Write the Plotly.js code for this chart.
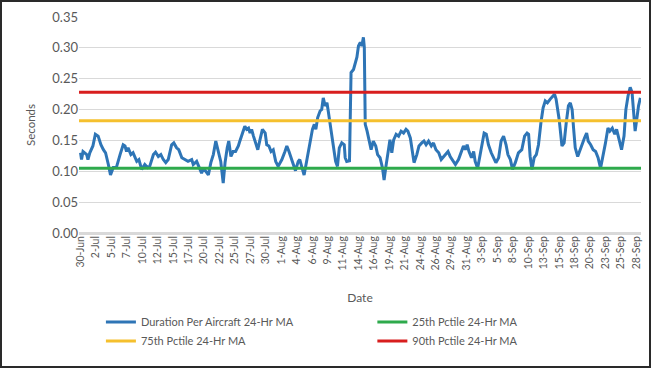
<!DOCTYPE html>
<html>
<head>
<meta charset="utf-8">
<script src="https://cdn.plot.ly/plotly-3.0.1.min.js"></script>
<style>
  html, body { margin: 0; padding: 0; background: #ffffff; }
  #wrap { position: relative; width: 655px; height: 381px; }
  #chart { position: absolute; left: 0; top: 0; width: 655px; height: 381px; }
  #frame { position: absolute; left: 0; top: 0; width: 647px; height: 364px;
           border: 2px solid #2a2a2a; pointer-events: none; }
</style>
</head>
<body>
<div id="wrap">
  <div id="chart"></div>
  <div id="frame"></div>
</div>
<script>
// Time index: days elapsed since 30-Jun 00:00 for each reading
const dayIndex = [
  0, 0.16, 0.4, 1.0, 1.2, 1.5, 2.0, 2.4, 2.85, 3.3, 3.7, 4.05, 4.5, 4.85, 5.3, 5.8,
  6.4, 6.9, 7.2, 7.45, 7.7, 8.15, 8.5, 9.1, 9.45, 9.9, 10.4, 10.85, 11.2, 11.8, 12.15,
  12.6, 13.0, 13.4, 13.8, 14.2, 14.75, 15.1, 15.55, 15.9, 16.4, 16.9, 17.4, 18.0, 18.25,
  18.8, 19.2, 19.6, 19.9, 20.25, 20.7, 21.1, 21.5, 21.9, 22.3, 22.7, 23.1, 23.4, 23.75,
  24.0, 24.35, 24.7, 25.1, 25.55, 25.8, 26.2, 26.6, 26.9, 27.2, 27.45, 27.7, 28.0, 28.35,
  28.7, 29.05, 29.45, 29.9, 30.15, 30.5, 30.85, 31.2, 31.6, 32.0, 32.6, 33.1, 33.4, 33.75,
  34.1, 34.45, 34.8, 35.25, 35.5, 35.8, 36.2, 36.6, 37.15, 37.55, 37.85, 38.1, 38.4, 38.8,
  39.05, 39.3, 39.6, 39.9, 40.1, 40.4, 40.7, 40.95, 41.3, 41.6, 41.9, 42.3, 42.7, 42.85,
  43.1, 43.55, 43.8, 44.2, 44.45, 44.75, 45.0, 45.3, 45.55, 45.8, 45.95, 46.1, 46.4, 46.7,
  47.05, 47.4, 47.8, 48.1, 48.5, 48.9, 49.15, 49.45, 49.75, 50.1, 50.4, 50.7, 51.1, 51.5,
  51.9, 52.3, 52.7, 53.0, 53.4, 53.65, 54.0, 54.45, 54.8, 55.25, 55.6, 55.95, 56.35, 56.8,
  57.15, 57.55, 58.0, 58.4, 58.8, 59.2, 59.5, 59.85, 60.2, 60.7, 61.2, 61.65, 62.0, 62.3,
  62.6, 62.9, 63.3, 63.65, 63.9, 64.3, 64.55, 65.0, 65.35, 65.7, 66.05, 66.5, 66.9, 67.25,
  67.7, 68.1, 68.5, 68.9, 69.2, 69.6, 69.95, 70.4, 70.9, 71.45, 71.9, 72.3, 72.55, 72.8,
  73.1, 73.45, 73.8, 74.15, 74.55, 74.9, 75.25, 75.6, 76.05, 76.4, 76.75, 77.0, 77.25,
  77.5, 77.95, 78.3, 78.65, 79.0, 79.3, 79.6, 79.85, 80.1, 80.5, 80.8, 81.2, 81.6, 81.95,
  82.2, 82.6, 83.0, 83.4, 83.8, 84.2, 84.6, 85.0, 85.4, 85.7, 86.1, 86.5, 86.8, 87.2,
  87.6, 88.0, 88.3, 88.65, 89.0, 89.3, 89.5, 89.8, 90.1, 90.35, 90.65
];

// Duration Per Aircraft 24-Hr MA (seconds)
const durationMA = [
  0.130, 0.119, 0.132, 0.127, 0.119, 0.130, 0.141, 0.160, 0.157, 0.143, 0.135, 0.130, 0.111, 0.094, 0.106, 0.106,
  0.127, 0.143, 0.141, 0.132, 0.138, 0.127, 0.130, 0.116, 0.119, 0.103, 0.111, 0.106, 0.108, 0.127, 0.131,
  0.124, 0.127, 0.119, 0.114, 0.119, 0.143, 0.146, 0.138, 0.135, 0.122, 0.119, 0.116, 0.119, 0.111,
  0.116, 0.105, 0.097, 0.105, 0.100, 0.094, 0.114, 0.127, 0.149, 0.132, 0.116, 0.081, 0.114, 0.138,
  0.149, 0.124, 0.132, 0.132, 0.141, 0.149, 0.160, 0.173, 0.168, 0.170, 0.162, 0.168, 0.157, 0.146,
  0.135, 0.151, 0.168, 0.162, 0.143, 0.141, 0.132, 0.135, 0.116, 0.108, 0.119, 0.132, 0.141, 0.132,
  0.122, 0.111, 0.101, 0.116, 0.119, 0.108, 0.094, 0.116, 0.146, 0.168, 0.176, 0.168, 0.187, 0.198,
  0.200, 0.219, 0.206, 0.211, 0.198, 0.176, 0.154, 0.138, 0.116, 0.108, 0.138, 0.146, 0.143, 0.122,
  0.116, 0.117, 0.260, 0.265, 0.276, 0.285, 0.303, 0.309, 0.303, 0.317, 0.301, 0.176, 0.165, 0.149,
  0.135, 0.149, 0.141, 0.127, 0.122, 0.105, 0.086, 0.108, 0.127, 0.151, 0.130, 0.151, 0.160, 0.157,
  0.165, 0.162, 0.168, 0.165, 0.154, 0.138, 0.114, 0.127, 0.141, 0.146, 0.149, 0.143, 0.149, 0.141,
  0.146, 0.135, 0.130, 0.119, 0.124, 0.130, 0.132, 0.124, 0.119, 0.111, 0.119, 0.132, 0.141, 0.135,
  0.143, 0.132, 0.122, 0.132, 0.116, 0.105, 0.119, 0.146, 0.162, 0.160, 0.143, 0.130, 0.122, 0.114,
  0.122, 0.149, 0.157, 0.143, 0.127, 0.119, 0.103, 0.114, 0.130, 0.135, 0.157, 0.162, 0.160, 0.124,
  0.103, 0.122, 0.127, 0.143, 0.179, 0.203, 0.214, 0.211, 0.217, 0.222, 0.225, 0.217, 0.200,
  0.184, 0.141, 0.146, 0.179, 0.206, 0.211, 0.200, 0.168, 0.138, 0.124, 0.132, 0.146, 0.154, 0.162,
  0.149, 0.143, 0.135, 0.132, 0.122, 0.105, 0.124, 0.146, 0.170, 0.165, 0.170, 0.160, 0.168, 0.151,
  0.135, 0.157, 0.200, 0.222, 0.236, 0.228, 0.206, 0.165, 0.187, 0.206, 0.219
];

// Percentile reference levels (seconds)
const pctile25 = 0.105;
const pctile75 = 0.182;
const pctile90 = 0.228;

// Category tick labels (every 2.5 days)
const tickLabels = [
  "30-Jun", "2-Jul", "5-Jul", "7-Jul", "10-Jul", "12-Jul", "15-Jul", "17-Jul", "20-Jul",
  "22-Jul", "25-Jul", "27-Jul", "30-Jul", "1-Aug", "4-Aug", "6-Aug", "9-Aug", "11-Aug",
  "14-Aug", "16-Aug", "19-Aug", "21-Aug", "24-Aug", "26-Aug", "29-Aug", "31-Aug", "3-Sep",
  "5-Sep", "8-Sep", "10-Sep", "13-Sep", "15-Sep", "18-Sep", "20-Sep", "23-Sep", "25-Sep", "28-Sep"
];
const tickStepDays = 2.5;
const tickPositions = tickLabels.map((_, i) => i * tickStepDays);

const seriesNames = [
  "Duration Per Aircraft 24-Hr MA",
  "25th Pctile 24-Hr MA",
  "75th Pctile 24-Hr MA",
  "90th Pctile 24-Hr MA"
];

const xMin = -0.25, xMax = 90.75;
const span = [xMin, xMax];
const FONT = "Lato, 'Open Sans', sans-serif";
const TXT = "#595959";

const traces = [
  { x: dayIndex, y: durationMA, name: seriesNames[0], mode: "lines", legend: "legend",
    line: { color: "#2E75B6", width: 3 }, hoverinfo: "skip" },
  { x: span, y: [pctile25, pctile25], name: seriesNames[1], mode: "lines", legend: "legend2",
    line: { color: "#2EAA4C", width: 3 }, hoverinfo: "skip" },
  { x: span, y: [pctile75, pctile75], name: seriesNames[2], mode: "lines", legend: "legend",
    line: { color: "#F5C02E", width: 3 }, hoverinfo: "skip" },
  { x: span, y: [pctile90, pctile90], name: seriesNames[3], mode: "lines", legend: "legend2",
    line: { color: "#D81E1E", width: 3 }, hoverinfo: "skip" }
];

const legendBase = {
  orientation: "v", xanchor: "left", y: -0.345, yanchor: "top",
  itemwidth: 30, tracegroupgap: 0, traceorder: "normal",
  font: { size: 11, color: TXT, family: FONT }, bgcolor: "rgba(0,0,0,0)"
};

const layout = {
  width: 655, height: 381,
  margin: { l: 79, r: 14, t: 17, b: 148, pad: 0 },
  paper_bgcolor: "#ffffff", plot_bgcolor: "#ffffff",
  font: { family: FONT, color: TXT, size: 11 },
  showlegend: true,
  xaxis: {
    range: span, showgrid: false, zeroline: false,
    tickmode: "array", tickvals: tickPositions, ticktext: tickLabels,
    tickangle: -90, ticks: "", tickfont: { size: 10.5, color: TXT, family: FONT },
    showline: false, automargin: false,
    title: { text: "Date", font: { size: 12, color: TXT, family: FONT }, standoff: 24 }
  },
  yaxis: {
    range: [0, 0.35], dtick: 0.05, tickformat: ".2f",
    showgrid: true, gridcolor: "#D9D9D9", gridwidth: 1,
    zeroline: true, zerolinecolor: "#D9D9D9", zerolinewidth: 3,
    ticks: "", tickfont: { size: 13, color: TXT, family: FONT },
    showline: false, automargin: false,
    title: { text: "Seconds", font: { size: 11.5, color: TXT, family: FONT }, standoff: 14 }
  },
  legend: Object.assign({}, legendBase, { x: 0.039 }),
  legend2: Object.assign({}, legendBase, { x: 0.522 })
};

Plotly.newPlot("chart", traces, layout, { staticPlot: true, displayModeBar: false });
</script>
</body>
</html>
